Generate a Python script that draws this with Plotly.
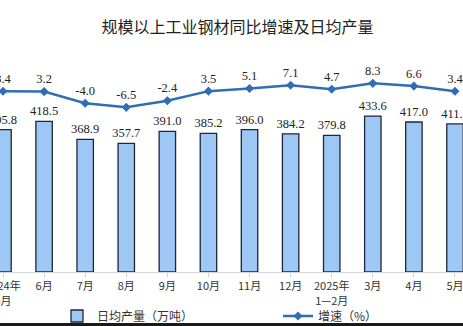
import plotly.graph_objects as go

categories = ["2024年<br>5月", "6月", "7月", "8月", "9月", "10月", "11月", "12月",
              "2025年<br>1—2月", "3月", "4月", "5月"]
daily_output = [395.8, 418.5, 368.9, 357.7, 391.0, 385.2, 396.0, 384.2, 379.8, 433.6, 417.0, 411.7]
growth = [3.4, 3.2, -4.0, -6.5, -2.4, 3.5, 5.1, 7.1, 4.7, 8.3, 6.6, 3.4]

W, H = 463, 326
top, bottom = 30, 272
ph = bottom - top

fig = go.Figure()
fig.add_trace(go.Bar(
    x=list(range(len(categories))), y=daily_output, name="日均产量（万吨）",
    marker=dict(color="#9DC8F5", line=dict(color="#1E2638", width=1.3)),
    width=0.4,
    text=[f"{v:.1f}" for v in daily_output], textposition="outside",
    constraintext="none",
    textfont=dict(family="Liberation Serif", size=12.5, color="#222"),
    cliponaxis=False, legend="legend",
))
fig.add_trace(go.Scatter(
    x=list(range(len(categories))), y=growth, name="增速（%）", yaxis="y2",
    mode="lines+markers+text",
    line=dict(color="#2F6EB5", width=2.5),
    marker=dict(symbol="diamond", size=7, color="#2F6EB5"),
    text=[f"{v:.1f}" for v in growth], textposition="top center",
    textfont=dict(family="Liberation Serif", size=12.5, color="#222"),
    cliponaxis=False, legend="legend2",
))

px_per = 41.09
x0 = -3 / px_per
x1 = x0 + W / px_per
leg_y = -(316 - bottom) / ph
leg_font = dict(family="Noto Sans CJK SC", size=12, color="#333")

fig.update_layout(
    width=W, height=H,
    margin=dict(l=0, r=0, t=top, b=H - bottom, autoexpand=False),
    paper_bgcolor="white", plot_bgcolor="white",
    title=dict(text="规模以上工业钢材同比增速及日均产量", x=0.513, xanchor="center",
               y=1 - 27 / H, yanchor="middle", yref="container",
               font=dict(family="Noto Sans CJK SC", size=16, color="#222")),
    xaxis=dict(range=[x0, x1], tickmode="array", tickvals=list(range(len(categories))),
               ticktext=categories, showline=True, linecolor="#d4d4d4", linewidth=1,
               ticks="outside", ticklen=4, tickcolor="#d4d4d4", tickson="boundaries",
               ticklabelstandoff=0, ticklabeloverflow="allow", automargin=False,
               tickfont=dict(family="Noto Sans CJK SC", size=11, color="#333"),
               showgrid=False, zeroline=False, fixedrange=True),
    yaxis=dict(range=[0, ph / 0.3597], visible=False, showgrid=False, automargin=False),
    yaxis2=dict(range=[-(bottom - 96.8) / 1.62, (96.8 - top) / 1.62], overlaying="y",
                visible=False, showgrid=False, automargin=False),
    showlegend=True,
    legend=dict(orientation="h", x=57 / W, xanchor="left", y=leg_y, yanchor="middle",
                font=leg_font, bgcolor="rgba(0,0,0,0)"),
    legend2=dict(orientation="h", x=278 / W, xanchor="left", y=leg_y, yanchor="middle",
                 font=leg_font, bgcolor="rgba(0,0,0,0)"),
    shapes=[dict(type="rect", xref="paper", yref="paper", x0=-0.01, x1=1.01,
                 y0=-(323 - bottom) / ph, y1=-(H + 2 - bottom) / ph,
                 fillcolor="#1a1a1a", line=dict(width=0))],
)

fig.write_html("out.html")
